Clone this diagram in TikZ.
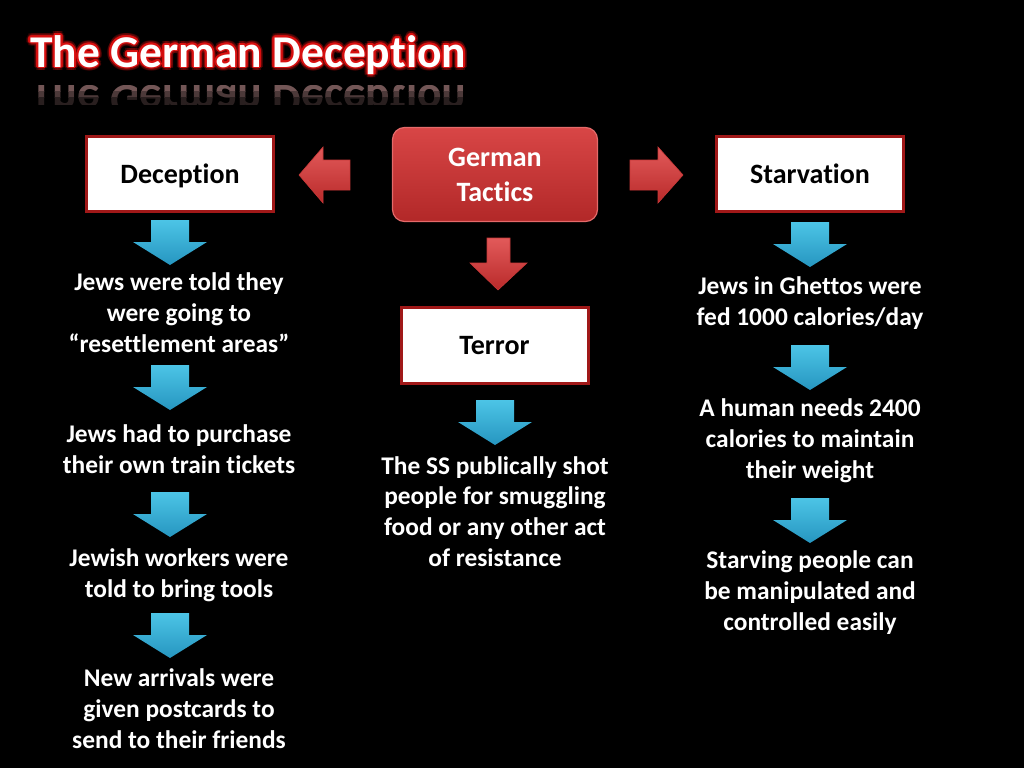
\documentclass[tikz,border=0pt]{standalone}
\usepackage{fontspec}
\setmainfont{Carlito}[Ligatures={TeX,NoCommon}]
\definecolor{boxline}{HTML}{A01818}
\definecolor{bluetop}{HTML}{4CC4E6}
\definecolor{bluebot}{HTML}{2696C0}
\definecolor{redtop}{HTML}{E25A5A}
\definecolor{redbot}{HTML}{B92A2A}
\definecolor{redline}{HTML}{C83838}
\definecolor{tactop}{HTML}{D84646}
\definecolor{tacbot}{HTML}{B22828}
\definecolor{tacline}{HTML}{E46A6A}
\definecolor{glow}{HTML}{D81010}
\definecolor{glowout}{HTML}{7A0808}
\tikzset{
  bluedown/.pic={\shade[top color=bluetop,bottom color=bluebot] (-19,0) -- (19,0) -- (19,22) -- (37,22) -- (0,45) -- (-37,22) -- (-19,22) -- cycle;}
}

\begin{document}
\begin{tikzpicture}[x=1pt,y=-1pt,
    box/.style={draw=boxline,line width=3,fill=white,minimum width=187,minimum height=75,text depth=0pt,
      font=\fontsize{28}{34}\selectfont\bfseries,text=black},
    tactics/.style={draw=tacline,line width=1.2,rounded corners=12,top color=tactop,bottom color=tacbot,
      minimum width=205,minimum height=94,align=center,text=white,
      font=\fontsize{28}{35}\selectfont\bfseries},
    note/.style={align=center,text=white,inner sep=0,anchor=base,
      font=\fontsize{25.4}{30.6}\selectfont\bfseries},
    titletext/.style={inner sep=0,anchor=base west,font=\fontsize{45.5}{50}\selectfont\bfseries},
    redarrow/.style={top color=redtop,bottom color=redbot,draw=redline,line width=0.6}]
  \fill[black] (0,0) rectangle (1024,768);
  \useasboundingbox (0,0) rectangle (1024,768);

  % title with glow and reflection
  \foreach \a in {0,30,...,330}
    \node[titletext,text=glowout,opacity=0.5,shift={(\a:3.5)}] at (30,67) {The German Deception};
  \foreach \a in {0,30,...,330}
    \node[titletext,text=glow,shift={(\a:1.8)}] at (30,67) {The German Deception};
  \node[titletext,text=white] (title) at (30,67) {The German Deception};
  \foreach \ya/\yb/\c in {85/91/45, 91/97/30, 97/104/16}{
    \begin{scope}
      \clip (0,\ya) rectangle (480,\yb);
      \node[titletext,text=red!25!white!\c!black,yscale=-1,transform shape] at (30,85) {The German Deception};
    \end{scope}
  }

  % top row
  \node[box] (deception) at (180,174) {Deception};
  \node[tactics] (tactics) at (495,174.5) {German\\Tactics};
  \node[box] (starvation) at (810,174) {Starvation};
  \node[box,minimum height=76] (terror) at (494.5,345.5) {Terror};

  \shade[redarrow] (350,160) -- (323,160) -- (323,147) -- (299,175) -- (323,203) -- (323,190) -- (350,190) -- cycle;
  \shade[redarrow] (630,160) -- (658,160) -- (658,147) -- (683,175) -- (658,203) -- (658,190) -- (630,190) -- cycle;
  \shade[redarrow] (487,238) -- (510,238) -- (510,263) -- (527,263) -- (498,290) -- (470,263) -- (487,263) -- cycle;

  % blue arrows
  \foreach \px/\py in {170/220,170/365,170/492,170/613,495/400,810/222,810/345,810/498}
    \pic at (\px,\py) {bluedown};

  % deception column (placed at last baseline)
  \node[note] (told) at (179,352) {Jews were told they\\were going to\\“resettlement areas”};
  \node[note] (tickets) at (179,473) {Jews had to purchase\\their own train tickets};
  \node[note] (tools) at (179,597) {Jewish workers were\\told to bring tools};
  \node[note] (postcards) at (179,748) {New arrivals were\\given postcards to\\send to their friends};

  % terror column
  \node[note] (shot) at (495,566) {The SS publically shot\\people for smuggling\\food or any other act\\of resistance};

  % starvation column
  \node[note] (ghettos) at (810,325) {Jews in Ghettos were\\fed 1000 calories/day};
  \node[note] (needs) at (810,478) {A human needs 2400\\calories to maintain\\their weight};
  \node[note] (easily) at (810,630) {Starving people can\\be manipulated and\\controlled easily};
\end{tikzpicture}
\end{document}
